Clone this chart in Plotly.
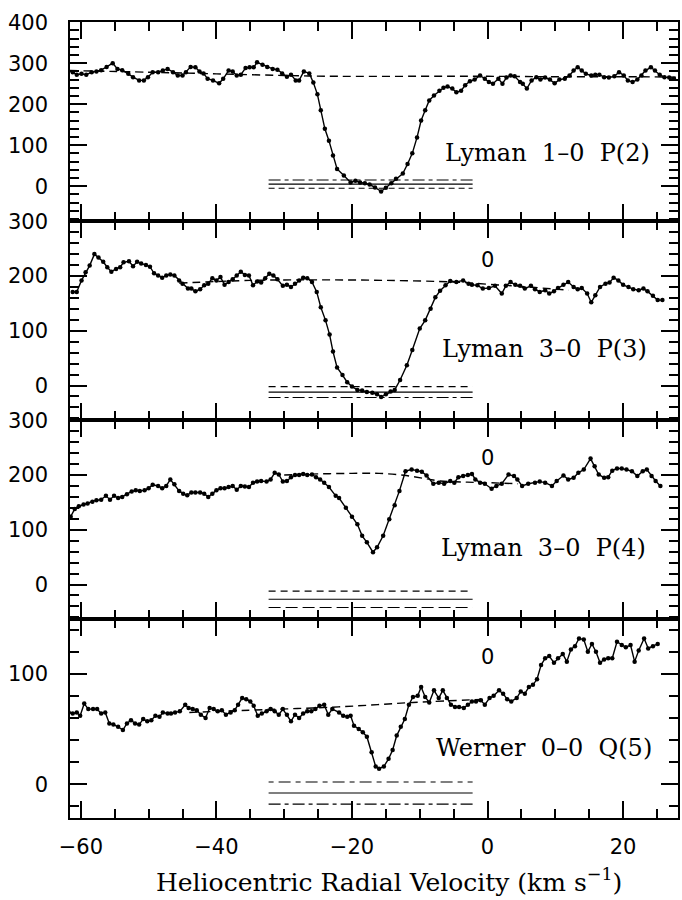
import plotly.graph_objects as go

# ---------------- data ----------------
v1 = [-61.2,-60.6,-59.9,-59.2,-58.4,-57.7,-57.0,-56.2,-55.3,-54.6,-53.9,-53.0,-52.3,-51.4,-50.7,-50.1,-49.4,-48.6,-47.9,-47.2,
      -46.4,-45.7,-45.0,-44.5,-43.8,-43.1,-42.5,-41.9,-41.3,-40.5,-39.6,-39.0,-38.2,-37.6,-37.0,-36.4,-35.7,-35.1,-34.5,-34.0,
      -33.2,-32.5,-31.7,-31.0,-30.3,-29.6,-29.0,-28.3,-27.8,-27.1,-26.3,-25.7,-25.1,-24.6,-24.0,-23.4,-22.8,-22.2,-21.2,-20.2,
      -19.5,-18.8,-18.1,-17.4,-16.6,-15.7,-15.0,-14.2,-13.5,-12.5,-11.8,-11.1,-10.4,-9.8,-9.2,-8.6,-7.9,-7.1,-6.5,-5.9,
      -5.2,-4.6,-3.9,-3.3,-2.6,-1.9,-1.1,-0.4,0.2,0.8,1.6,2.2,2.8,3.4,4.0,4.8,5.2,5.8,6.5,7.2,
      7.8,8.5,9.2,9.9,10.6,11.4,12.1,12.7,13.3,13.9,14.5,15.3,15.9,16.5,17.2,17.9,18.7,19.4,20.1,20.7,
      21.4,22.1,22.7,23.3,24.1,24.7,25.4,26.1,26.8,27.5]
f1 = [278,272,274,272,278,280,283,291,300,286,283,274,266,258,258,266,278,278,282,286,
      278,270,270,278,291,290,280,275,262,258,251,262,282,280,270,272,288,290,290,302,
      296,291,286,284,275,267,272,258,258,280,275,253,224,185,140,111,75,42,26,9,
      13,9,7,4,-3,-13,-4,7,18,31,54,80,119,160,185,209,221,233,240,243,
      238,229,233,246,256,260,270,262,254,250,262,250,265,270,268,254,250,238,258,266,
      260,265,260,251,260,262,270,282,290,282,274,270,272,272,266,265,268,278,270,258,
      254,260,270,282,290,282,272,266,265,262]

v2 = [-61.2,-60.6,-59.9,-59.3,-58.7,-58.0,-57.4,-56.7,-56.1,-55.5,-54.8,-54.2,-53.7,-52.9,-52.3,-51.7,-51.1,-50.4,-49.8,-49.2,
      -48.6,-48.0,-47.4,-46.8,-46.2,-45.5,-45.0,-44.2,-43.7,-43.1,-42.4,-41.8,-41.2,-40.6,-40.0,-39.4,-38.8,-38.2,-37.6,-37.0,
      -36.4,-35.8,-35.2,-34.6,-34.0,-33.4,-32.8,-32.2,-31.6,-31.0,-30.2,-29.6,-29.0,-28.4,-27.8,-27.2,-26.6,-25.9,-25.2,-24.6,
      -23.9,-23.3,-22.8,-22.2,-21.4,-20.7,-20.0,-19.2,-18.5,-17.8,-17.0,-16.3,-15.7,-15.0,-14.3,-13.7,-12.9,-11.9,-11.1,-10.0,
      -9.2,-8.4,-7.7,-7.0,-6.2,-5.5,-4.6,-3.6,-2.8,-2.3,-1.5,-0.7,0.2,1.1,2.1,2.7,3.4,4.1,4.8,5.5,
      6.4,7.0,7.7,8.5,9.1,9.8,10.4,11.2,11.9,12.7,13.3,13.9,14.7,15.3,15.9,16.6,17.4,18.0,18.6,19.3,
      20.0,20.8,21.5,22.3,23.0,23.6,24.4,25.1,25.8]
f2 = [171,171,192,207,219,240,234,226,216,208,213,216,225,227,218,226,223,220,217,205,
      201,197,201,203,201,192,186,177,177,172,176,183,186,196,192,198,184,189,194,201,
      208,202,201,183,190,188,196,204,201,194,182,184,180,186,192,197,196,189,171,143,
      119,93,62,33,19,6,-2,-8,-9,-12,-13,-16,-21,-16,-11,-8,10,37,65,104,
      119,140,161,173,183,191,189,192,186,184,183,177,178,182,168,182,189,184,182,177,
      182,176,171,174,168,172,178,184,189,180,176,178,168,152,165,180,186,188,197,192,
      184,180,176,174,177,172,164,156,156]

v3 = [-61.5,-60.9,-60.3,-59.6,-59.0,-58.3,-57.7,-57.0,-56.3,-55.7,-55.1,-54.5,-53.9,-53.2,-52.5,-51.9,-51.3,-50.6,-50.0,-49.4,
      -48.6,-48.0,-47.4,-46.8,-46.2,-45.5,-44.9,-44.3,-43.7,-43.1,-42.4,-41.8,-41.2,-40.6,-40.0,-39.4,-38.8,-38.2,-37.6,-37.0,
      -36.4,-35.8,-35.2,-34.6,-34.0,-33.4,-32.6,-32.0,-31.4,-30.8,-30.2,-29.6,-29.0,-28.4,-27.8,-27.2,-26.6,-25.9,-25.3,-24.7,
      -24.1,-23.4,-22.4,-21.9,-20.9,-20.0,-19.2,-18.5,-17.8,-16.9,-16.3,-15.4,-14.5,-13.7,-13.0,-12.1,-11.2,-10.4,-9.7,-9.0,
      -8.0,-7.2,-6.4,-5.5,-4.9,-4.3,-3.6,-2.9,-2.3,-1.8,-1.1,-0.4,0.6,1.3,2.1,3.1,3.9,4.4,5.1,6.0,
      7.0,7.7,8.5,9.5,10.2,11.2,11.9,12.7,13.4,14.2,15.2,15.8,16.4,17.2,17.8,18.4,19.1,19.8,20.5,21.3,
      22.1,22.9,23.5,24.2,24.8,25.5]
f3 = [124,138,143,146,148,151,154,155,162,155,162,158,160,165,170,172,171,172,176,182,
      180,176,180,192,183,171,166,163,168,168,168,166,160,166,172,176,176,178,180,173,
      180,179,178,186,188,189,188,192,204,201,188,189,196,200,200,202,200,201,196,192,
      186,178,162,158,140,124,110,89,77,59,68,89,119,145,171,207,210,208,206,199,
      184,186,184,189,186,196,198,200,202,192,186,184,175,180,184,201,198,192,180,184,
      186,188,186,180,189,199,192,195,204,210,230,216,201,195,196,208,212,212,210,207,
      198,207,210,198,189,180]

v4 = [-61.8,-61.2,-60.6,-60.1,-59.5,-58.9,-58.2,-57.6,-57.0,-56.4,-55.8,-55.2,-54.5,-53.8,-53.2,-52.6,-52.0,-51.4,-50.8,-50.2,
      -49.6,-49.0,-48.4,-47.9,-47.2,-46.7,-46.1,-45.4,-44.6,-44.1,-43.5,-42.9,-42.3,-41.6,-41.0,-40.4,-39.8,-39.2,-38.6,-37.9,
      -37.3,-36.8,-36.2,-35.6,-35.0,-34.5,-33.9,-33.3,-32.6,-32.0,-31.4,-30.8,-30.2,-29.6,-29.0,-28.4,-27.8,-27.2,-26.6,-26.0,
      -25.4,-24.8,-24.1,-23.5,-22.9,-21.9,-21.3,-20.7,-20.2,-19.7,-19.0,-18.4,-17.8,-17.1,-16.5,-16.0,-15.3,-14.6,-14.0,-13.4,
      -12.8,-12.2,-11.6,-11.0,-10.3,-9.8,-9.2,-8.6,-7.9,-7.2,-6.6,-6.0,-5.4,-4.8,-4.2,-3.5,-2.9,-2.3,-1.7,-1.0,
      -0.4,0.3,0.9,1.7,2.3,2.9,3.5,4.3,4.9,5.5,6.1,6.7,7.3,7.9,8.5,9.1,9.8,10.4,11.1,11.7,
      12.3,12.9,13.5,14.2,14.8,15.4,16.0,16.6,17.2,17.8,18.4,19.1,19.8,20.4,21.1,21.7,22.3,23.1,23.7,24.4,
      25.1]
f4 = [65,64,65,62,73,68,68,68,64,65,55,54,52,49,55,58,55,54,59,57,
      58,62,61,65,64,64,65,66,72,69,68,67,63,60,69,68,66,67,63,65,
      67,72,78,77,75,71,62,64,66,68,66,63,68,63,57,63,60,64,66,66,
      68,71,72,63,68,65,62,61,62,53,50,47,43,29,16,14,16,23,31,44,
      52,59,72,79,80,88,79,74,85,78,85,78,72,70,70,69,72,75,75,76,
      72,78,80,85,82,77,75,78,84,82,88,90,95,108,114,116,110,114,118,111,
      122,125,132,131,120,127,120,110,113,114,114,129,126,124,126,111,121,132,123,125,
      127]

# continuum (dashed) fits
cv1 = [-61.6, -50, -40, -30, -22, -10, 0, 10, 20, 28.1]
cf1 = [282, 278, 274, 270, 268, 268, 268, 267, 267, 266]
cv2 = [-45.5, -35, -25, -15, -5, 0, 5, 12]
cf2 = [187, 192, 193, 192, 189, 185, 181, 174]
cv3 = [-30, -25, -20, -16, -12, -9, -7, -3, 0, 4.5]
cf3 = [200, 202, 203, 203, 199, 193, 189, 187, 186, 184]
cv4 = [-44, -33, -22, -11, 0]
cf4 = [65, 67.5, 70, 74, 77]

# zero-level / error lines (top, middle, bottom) over velocity span
err_span = [-32.3, -2.2]
err1 = [15, 5, -5]
err2 = [-2, -12, -22]
err3 = [-12, -27, -42]
err4 = [2, -8, -18]
err_styles = [
    ["12px,4px,4px,4px", "solid", "6px,4px"],
    ["7px,5px", "solid", "12px,4px,4px,4px"],
    ["7px,5px", "solid", "12px,5px"],
    ["5px,5px,12px,5px", "solid", "12px,4px,4px,4px"],
]

labels = ["Lyman\u00a0\u00a01\u20130\u00a0\u00a0P(2)", "Lyman\u00a0\u00a03\u20130\u00a0\u00a0P(3)",
          "Lyman\u00a0\u00a03\u20130\u00a0\u00a0P(4)", "Werner\u00a0\u00a00\u20130\u00a0\u00a0Q(5)"]
label_pos = [(8.8, 82), (8.4, 67), (8.2, 67), (8.4, 33)]
zero_pos = [None, 229, 231, 115]

yranges = [[-85, 400.5], [-63, 300.5], [-63, 300.5], [-30.6, 149.6]]
domains = [[0.75, 1.0], [0.5, 0.75], [0.25, 0.5], [0.0, 0.25]]
xrange_ = [-61.6, 28.1]
x_major, x_minor = 20, 5
y_major, y_minor = 100, 20

# ---------------- figure ----------------
fig = go.Figure()

series = [(v1, f1), (v2, f2), (v3, f3), (v4, f4)]
conts = [(cv1, cf1), (cv2, cf2), (cv3, cf3), (cv4, cf4)]
errs = [err1, err2, err3, err4]

axis_font = dict(family="DejaVu Sans", size=21, color="black")
FAR = dict(tick0=100000.37, dtick=1000000)  # keeps an overlay axis' own major ticks out of view

layout_axes = {}
for i in range(4):
    n = "" if i == 0 else str(i + 1)
    xa, ya = "x" + n, "y" + n
    cv, cf = conts[i]
    fig.add_trace(go.Scatter(x=cv, y=cf, xaxis=xa, yaxis=ya, mode="lines",
                             line=dict(color="black", width=1.4, dash="8px,5px", shape="spline"),
                             showlegend=False, hoverinfo="skip"))
    for lev, sty in zip(errs[i], err_styles[i]):
        fig.add_trace(go.Scatter(x=err_span, y=[lev, lev], xaxis=xa, yaxis=ya, mode="lines",
                                 line=dict(color="black", width=1.1, dash=sty),
                                 showlegend=False, hoverinfo="skip"))
    v, f = series[i]
    fig.add_trace(go.Scatter(x=v, y=f, xaxis=xa, yaxis=ya, mode="lines+markers",
                             line=dict(color="black", width=1.4),
                             marker=dict(color="black", size=4.5),
                             showlegend=False))

    # main axes: labels + short (minor) ticks
    layout_axes["xaxis" + n] = dict(
        anchor=ya, domain=[0, 1], range=xrange_, tick0=0, dtick=x_major,
        ticks="inside", ticklen=17, tickwidth=2, tickcolor="black",
        minor=dict(tick0=0, dtick=x_minor, ticks="inside", ticklen=9, tickwidth=2, tickcolor="black", showgrid=False),
        showline=True, linewidth=1.6, linecolor="black", mirror="allticks", showgrid=False, zeroline=False,
        showticklabels=(i == 3), tickfont=axis_font, ticklabelstandoff=9)
    layout_axes["yaxis" + n] = dict(
        anchor=xa, domain=domains[i], range=yranges[i], tick0=0, dtick=y_major,
        ticks="inside", ticklen=17, tickwidth=2, tickcolor="black",
        minor=dict(tick0=0, dtick=y_minor, ticks="inside", ticklen=9, tickwidth=2, tickcolor="black", showgrid=False),
        showline=True, linewidth=1.6, linecolor="black", mirror="allticks", showgrid=False, zeroline=False,
        tickfont=axis_font, ticklabelstandoff=16)
    # overlay axes: long ticks at the labelled values
    layout_axes["xaxis" + str(5 + i)] = dict(
        overlaying=xa, anchor=ya, side="bottom", range=xrange_, ticks="", showticklabels=False,
        minor=dict(tick0=0, dtick=x_major, ticks="inside", ticklen=17, tickwidth=2, tickcolor="black", showgrid=False),
        showline=False, mirror="allticks", showgrid=False, zeroline=False, **FAR)
    layout_axes["yaxis" + str(9 + i)] = dict(
        overlaying=ya, anchor=xa, side="left", range=yranges[i], ticks="", showticklabels=False,
        minor=dict(tick0=0, dtick=y_major, ticks="inside", ticklen=17, tickwidth=2, tickcolor="black", showgrid=False),
        showline=False, mirror="allticks", showgrid=False, zeroline=False, **FAR)

fig.update_layout(**layout_axes)

serif = dict(family="DejaVu Serif", size=24, color="black")
for i in range(4):
    n = "" if i == 0 else str(i + 1)
    lx, ly = label_pos[i]
    fig.add_annotation(x=lx, y=ly, xref="x" + n, yref="y" + n, text=labels[i], showarrow=False, font=serif,
                       xanchor="center", yanchor="middle")
    if zero_pos[i] is not None:
        fig.add_annotation(x=0, y=zero_pos[i], xref="x" + n, yref="y" + n, text="0", showarrow=False,
                           font=axis_font, xanchor="center", yanchor="middle")

fig.add_annotation(x=0.5246, y=-0.078, xref="paper", yref="paper",
                   text="Heliocentric Radial Velocity (km s<sup>\u22121</sup>)", showarrow=False,
                   font=dict(family="DejaVu Serif", size=25, color="black"), xanchor="center", yanchor="middle")

fig.update_layout(template="simple_white", width=682, height=900, margin=dict(l=70, r=2, t=22, b=82),
                  showlegend=False, font=dict(family="DejaVu Sans", color="black"))

fig.write_html("out.html")
